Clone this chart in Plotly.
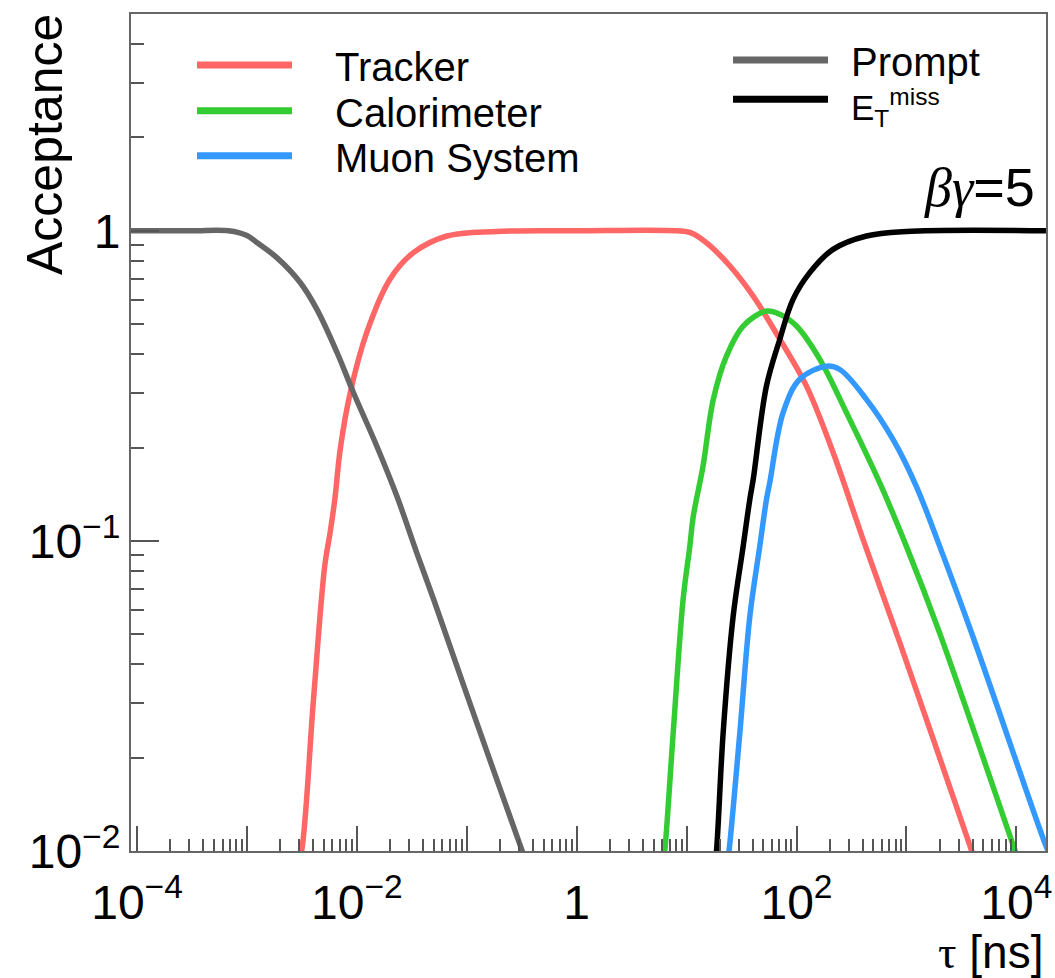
import plotly.graph_objects as go

# ---------------- data (tau in ns, acceptance) ----------------
prompt_tau = [8.8e-5, 3.16e-4, 6.8e-4, 1.0e-3, 1.23e-3, 1.87e-3, 3.05e-3, 4.33e-3, 6.6e-3,
              9.3e-3, 1.52e-2, 2.31e-2, 3.5e-2, 5.0e-2, 0.1, 0.316, 0.398]
prompt_acc = [1.0, 1.0, 1.0, 0.965, 0.916, 0.819, 0.681, 0.558, 0.405,
              0.301, 0.202, 0.1395, 0.0917, 0.0647, 0.032, 0.0101, 0.0081]

tracker_tau = [2.82e-3, 3.16e-3, 4.03e-3, 5.1e-3, 5.7e-3, 6.3e-3, 7.05e-3, 8.7e-3, 1.23e-2,
               2.0e-2, 3.27e-2, 6.6e-2, 0.187, 1.0, 8.1, 11.0, 15.1, 24.8, 40.3, 70.5,
               123, 215, 404, 871, 3890, 5000]
tracker_acc = [0.0085, 0.0101, 0.0308, 0.083, 0.106, 0.136, 0.197, 0.30, 0.47,
               0.698, 0.85, 0.962, 0.995, 1.0, 1.0, 0.985, 0.916, 0.77, 0.616, 0.447,
               0.316, 0.193, 0.101, 0.047, 0.0101, 0.0078]

calo_tau = [6.0, 6.35, 7.55, 9.3, 10.7, 11.5, 14.1, 17.5, 23.1, 32.7, 53.3, 70.5, 100,
            163, 285, 571, 1000, 2000, 9660, 11200]
calo_acc = [0.0085, 0.0101, 0.024, 0.0648, 0.096, 0.12, 0.174, 0.286, 0.395, 0.493, 0.551,
            0.538, 0.493, 0.385, 0.259, 0.154, 0.096, 0.0506, 0.0101, 0.0087]

muon_tau = [22.9, 24.4, 30.5, 37.6, 46.3, 53.3, 57.1, 75.5, 107, 188, 248, 433, 757,
            1230, 2010, 4040, 18200, 20000]
muon_acc = [0.0085, 0.0101, 0.024, 0.057, 0.096, 0.136, 0.154, 0.259, 0.332, 0.366, 0.357,
            0.286, 0.212, 0.150, 0.096, 0.049, 0.0106, 0.0098]

met_tau = [17.8, 18.75, 21.5, 26.5, 32.7, 37.6, 40.4, 53.3, 70.5, 93, 132, 215, 433,
           1000, 18600]
met_acc = [0.0085, 0.0101, 0.024, 0.057, 0.096, 0.136, 0.158, 0.316, 0.447, 0.601,
           0.733, 0.871, 0.962, 0.995, 1.0]

x_tickvals = [1e-4, 1e-3, 1e-2, 1e-1, 1, 1e1, 1e2, 1e3, 1e4]
x_ticktext = ["10<sup>−4</sup>", "", "10<sup>−2</sup>", "", "1", "", "10<sup>2</sup>", "", "10<sup>4</sup>"]
y_tickvals = [1e-2, 1e-1, 1]
y_ticktext = ["10<sup>−2</sup>", "10<sup>−1</sup>", "1"]

series = [
    ("Tracker", tracker_tau, tracker_acc, "#ff6666"),
    ("Calorimeter", calo_tau, calo_acc, "#33cc33"),
    ("Muon System", muon_tau, muon_acc, "#3399ff"),
    ("Prompt", prompt_tau, prompt_acc, "#666666"),
    ("E<sub>T</sub><sup>miss</sup>", met_tau, met_acc, "#000000"),
]

# ---------------- layout geometry ----------------
W, H = 1055, 978
L, R, T, B = 131, 9, 14, 127
PW, PH = W - L - R, H - T - B
FONT = "Liberation Sans, Arial, Helvetica, sans-serif"


def px(x):
    return (x - L) / PW


def py(y):
    return (T + PH - y) / PH


fig = go.Figure()
for name, xs, ys, col in series:
    fig.add_trace(go.Scatter(x=xs, y=ys, mode="lines", name=name, showlegend=False,
                             line=dict(color=col, width=5.5, shape="spline", smoothing=1.0)))

x_minor = [k * 10.0 ** d for d in range(-4, 5) for k in range(2, 10)]
y_minor = [k * 10.0 ** d for d in range(-2, 1) for k in range(2, 10)]

axis_common = dict(type="log", showgrid=False, zeroline=False, showline=True, linecolor="#666666",
                   linewidth=2, mirror=True, ticks="inside", tickcolor="#555555", tickwidth=2,
                   automargin=False,
                   tickfont=dict(family=FONT, size=48, color="black"))

fig.update_xaxes(**axis_common, range=[-4.055, 4.27], tickmode="array", tickvals=x_tickvals,
                 ticktext=x_ticktext, ticklen=25, ticklabelstandoff=8,
                 minor=dict(tickmode="array", tickvals=x_minor, ticks="inside", ticklen=12,
                            tickcolor="#555555", tickwidth=1.5, showgrid=False))
fig.update_yaxes(**axis_common, range=[-2, 0.699], tickmode="array", tickvals=y_tickvals,
                 ticktext=y_ticktext, ticklen=28, ticklabelstandoff=-1,
                 minor=dict(tickmode="array", tickvals=y_minor, ticks="inside", ticklen=13,
                            tickcolor="#555555", tickwidth=1.5, showgrid=False))

shapes = []
annotations = []
# left legend column
for (name, _, _, col), ly in zip(series[:3], [65, 110.7, 155.7]):
    shapes.append(dict(type="line", xref="paper", yref="paper", x0=px(197), x1=px(292),
                       y0=py(ly), y1=py(ly), line=dict(color=col, width=7)))
    annotations.append(dict(xref="paper", yref="paper", x=px(333), y=py(ly + 2), text=name,
                            showarrow=False, xanchor="left", yanchor="middle",
                            font=dict(family=FONT, size=40, color="black")))
# right legend column
for (name, _, _, col), ly, fs, dy in zip(series[3:], [60, 99.3], [40, 35], [2, 8]):
    shapes.append(dict(type="line", xref="paper", yref="paper", x0=px(733), x1=px(828),
                       y0=py(ly), y1=py(ly), line=dict(color=col, width=7)))
    annotations.append(dict(xref="paper", yref="paper", x=px(849), y=py(ly + dy), text=name,
                            showarrow=False, xanchor="left", yanchor="middle",
                            font=dict(family=FONT, size=fs, color="black")))

annotations.append(dict(xref="paper", yref="paper", x=px(1037), y=py(187),
                        text="<span style='font-family:Liberation Serif,Times New Roman,serif'><i>βγ</i></span>=5",
                        showarrow=False, xanchor="right", yanchor="middle",
                        font=dict(family=FONT, size=54, color="black")))
annotations.append(dict(xref="paper", yref="paper", x=px(1045), y=py(952),
                        text="<span style='font-family:Liberation Serif,Times New Roman,serif'>τ</span> [ns]",
                        showarrow=False, xanchor="right", yanchor="middle",
                        font=dict(family=FONT, size=46, color="black")))
annotations.append(dict(xref="paper", yref="paper", x=px(45), y=py(145), text="Acceptance",
                        textangle=-90, showarrow=False, xanchor="center", yanchor="middle",
                        font=dict(family=FONT, size=50, color="black")))

fig.update_layout(width=W, height=H, margin=dict(l=L, r=R, t=T, b=B, pad=0),
                  paper_bgcolor="white", plot_bgcolor="white", shapes=shapes,
                  annotations=annotations, showlegend=False)

fig.write_html("out.html")
